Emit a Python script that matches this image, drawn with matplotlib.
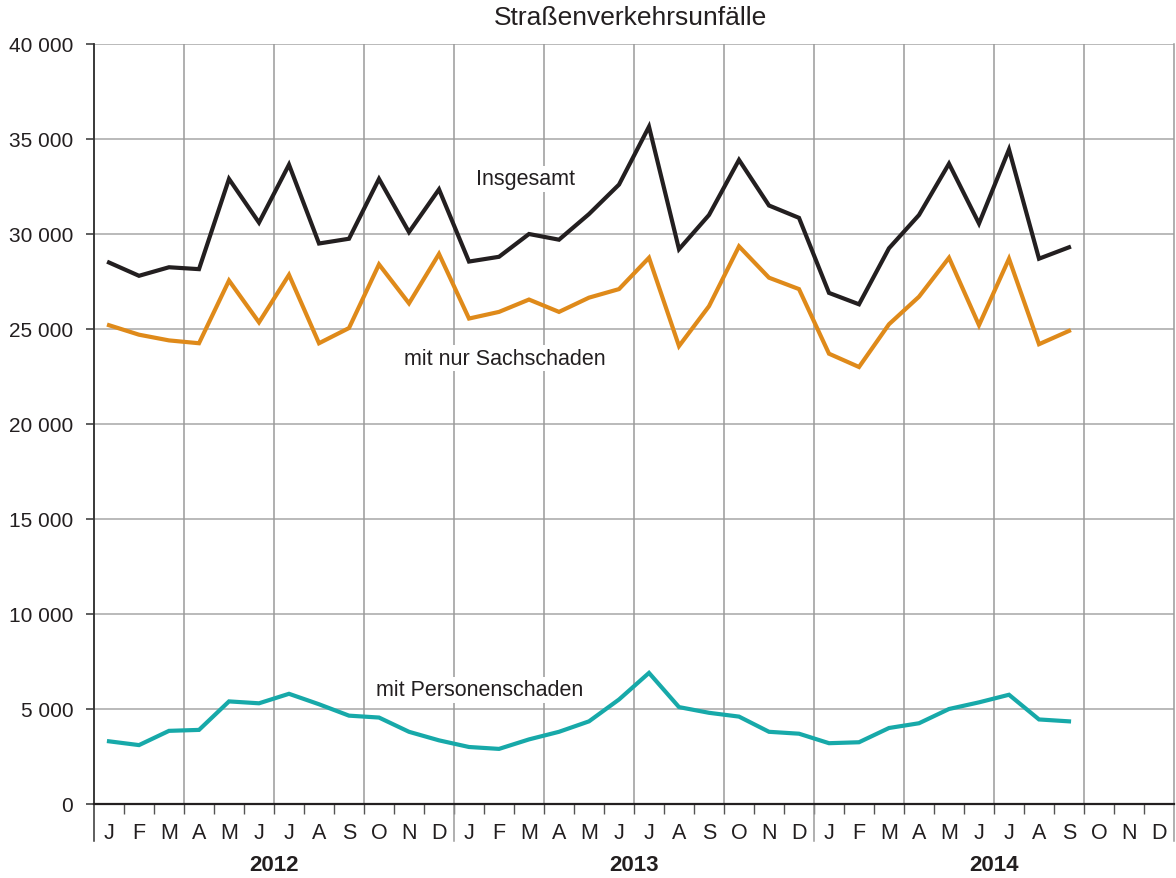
import matplotlib.pyplot as plt
from matplotlib.ticker import FixedLocator

plt.rcParams['font.family'] = ['Liberation Sans', 'DejaVu Sans']

months = ['J', 'F', 'M', 'A', 'M', 'J', 'J', 'A', 'S', 'O', 'N', 'D']
years = ['2012', '2013', '2014']

insgesamt = [28500, 27800, 28250, 28150, 32900, 30600, 33650, 29500, 29750, 32900, 30100, 32350,
             28550, 28800, 30000, 29700, 31050, 32600, 35650, 29200, 31000, 33900, 31500, 30850,
             26900, 26300, 29250, 31000, 33700, 30550, 34450, 28700, 29300]
sachschaden = [25200, 24700, 24400, 24250, 27550, 25350, 27850, 24250, 25050, 28400, 26350, 28950,
               25550, 25900, 26550, 25900, 26650, 27100, 28750, 24100, 26200, 29350, 27700, 27100,
               23700, 23000, 25250, 26700, 28750, 25200, 28700, 24200, 24900]
personenschaden = [3300, 3100, 3850, 3900, 5400, 5300, 5800, 5250, 4650, 4550, 3800, 3350,
                   3000, 2900, 3400, 3800, 4350, 5500, 6900, 5100, 4800, 4600, 3800, 3700,
                   3200, 3250, 4000, 4250, 5000, 5350, 5750, 4450, 4350]

fig = plt.figure(figsize=(11.76, 8.79), dpi=100)
ax = fig.add_axes([94 / 1176, 1 - 805 / 879, 1080 / 1176, 760 / 879])

x = [i + 0.5 for i in range(len(insgesamt))]
ax.plot(x, insgesamt, color='#231f20', lw=3.0, solid_joinstyle='miter', zorder=3)
ax.plot(x, sachschaden, color='#df8a1a', lw=3.0, solid_joinstyle='miter', zorder=3)
ax.plot(x, personenschaden, color='#17a9a9', lw=3.0, solid_joinstyle='miter', zorder=3)

ax.set_xlim(0, 36)
ax.set_ylim(0, 40000)

# grid
for v in range(5000, 40001, 5000):
    ax.axhline(v, color='#b4b4b4', lw=1.3, zorder=1)
for q in range(3, 36, 3):
    ax.axvline(q, color='#9a9a9a', lw=1.1, zorder=1)

for s in ['top', 'right', 'bottom']:
    ax.spines[s].set_visible(False)
ax.spines['left'].set_color('#333333')
ax.spines['left'].set_linewidth(1.1)
ax.spines['left'].set_bounds(0, 40000)

ext = -37 / 760
ax.plot([0, 0], [ext, 1], transform=ax.get_xaxis_transform(), color='#333333', lw=1.1, clip_on=False)
for yb in [12, 24, 36]:
    ax.plot([yb, yb], [ext, 0], transform=ax.get_xaxis_transform(), color='#9a9a9a', lw=1.1, clip_on=False)
ax.axhline(0, color='#231f20', lw=1.6, zorder=4, clip_on=False)
ax.plot([36, 36], [0, 1], transform=ax.get_xaxis_transform(), color='#9a9a9a', lw=1.1, clip_on=False)

# y ticks
ax.set_yticks(range(0, 40001, 5000))
ax.set_yticklabels(['0' if v == 0 else f'{v // 1000} 000' for v in range(0, 40001, 5000)], fontsize=15,
                   color='#231f20')
ax.tick_params(axis='y', length=6, width=1.1, color='#333333', pad=9)

# x ticks: month boundaries as tick marks, month labels as minor labels
ax.xaxis.set_major_locator(FixedLocator(list(range(1, 36))))
ax.set_xticklabels([])
ax.tick_params(axis='x', which='major', length=7, width=1.0, color='#555555')
ax.xaxis.set_minor_locator(FixedLocator([i + 0.5 for i in range(36)]))
ax.set_xticklabels(months * 3, minor=True, fontsize=15.5, color='#231f20')
ax.tick_params(axis='x', which='minor', length=0, pad=13)

for i, yr in enumerate(years):
    ax.text(i * 12 + 6, -0.079, yr, transform=ax.get_xaxis_transform(), ha='center', va='center',
            fontsize=16, fontweight='bold', color='#231f20')

box = dict(facecolor='white', edgecolor='none', pad=2)
ax.text(14.4, 32900, 'Insgesamt', ha='center', va='center', fontsize=15.5, color='#231f20', bbox=box, zorder=2)
ax.text(13.7, 23470, 'mit nur Sachschaden', ha='center', va='center', fontsize=15.5, color='#231f20',
        bbox=box, zorder=2)
ax.text(12.87, 6000, 'mit Personenschaden', ha='center', va='center', fontsize=15.5, color='#231f20',
        bbox=box, zorder=2)

fig.text(630 / 1176, 1 - 18 / 879, 'Straßenverkehrsunfälle', ha='center', va='center', fontsize=19,
         color='#231f20')

fig.savefig('out.png', dpi=100)
